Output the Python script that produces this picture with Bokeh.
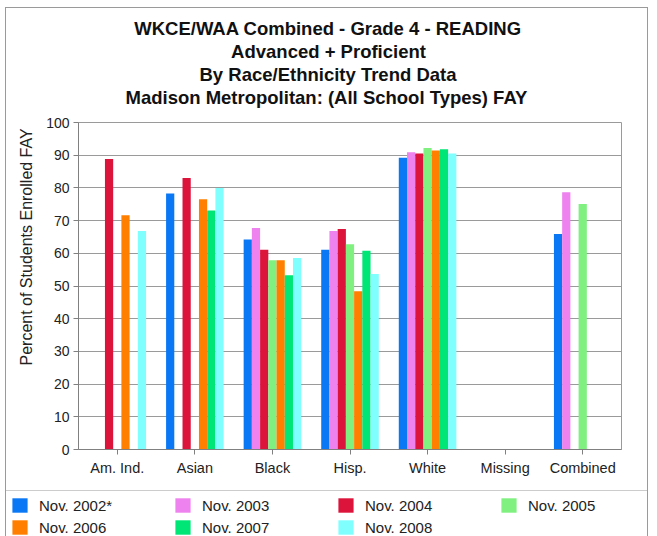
import math
from bokeh.plotting import figure
from bokeh.layouts import column
from bokeh.models import (FactorRange, Range1d, Legend, LegendItem, Title,
                          ColumnDataSource, FixedTicker)
from bokeh.transform import dodge
from bokeh.embed import file_html
from bokeh.resources import INLINE

nan = float("nan")

categories = ["Am. Ind.", "Asian", "Black", "Hisp.", "White", "Missing", "Combined"]
series_names = ["Nov. 2002*", "Nov. 2003", "Nov. 2004", "Nov. 2005",
                "Nov. 2006", "Nov. 2007", "Nov. 2008"]
nov2002 = [nan, 78.3, 64.2, 61.1, 89.2, nan, 65.9]
nov2003 = [nan, nan, 67.7, 66.8, 90.9, nan, 78.7]
nov2004 = [88.8, 83.0, 61.1, 67.4, 90.5, nan, nan]
nov2005 = [nan, nan, 57.9, 62.8, 92.2, nan, 75.1]
nov2006 = [71.6, 76.5, 57.9, 48.4, 91.4, nan, nan]
nov2007 = [nan, 73.1, 53.3, 60.8, 91.8, nan, nan]
nov2008 = [66.8, 80.0, 58.6, 53.7, 90.5, nan, nan]
y_ticks = [0, 10, 20, 30, 40, 50, 60, 70, 80, 90, 100]

title_lines = ["WKCE/WAA Combined - Grade 4 - READING",
               "Advanced + Proficient",
               "By Race/Ethnicity Trend Data",
               "Madison Metropolitan: (All School Types) FAY"]
y_label = "Percent of Students Enrolled FAY"

colors = ["#0a78f5", "#ee82ee", "#dc143c", "#80f080", "#ff8000", "#00e676", "#80ffff"]
series = [nov2002, nov2003, nov2004, nov2005, nov2006, nov2007, nov2008]

FONT = "Liberation Sans"
GRAY = "#9a9a9a"

W = 641
H1, H2 = 482, 46
LEFT, RIGHT, TOP = 72, 26, 114
FRAME_H = 327
BOTTOM = H1 - TOP - FRAME_H

p = figure(width=W, height=H1, x_range=FactorRange(*categories),
           y_range=Range1d(0, 100), output_backend="svg", toolbar_location=None,
           min_border_left=LEFT, min_border_right=RIGHT, min_border_top=TOP,
           min_border_bottom=BOTTOM)
p.outline_line_color = GRAY
p.background_fill_color = "white"
p.border_fill_color = "white"

data = {"cat": categories}
for i, s in enumerate(series):
    data["s%d" % i] = s
src = ColumnDataSource(data)

bw = 0.106
for i, c in enumerate(colors):
    p.vbar(x=dodge("cat", (i - 3) * bw, range=p.x_range), top="s%d" % i,
           width=bw, source=src, fill_color=c, line_color=None)

# axes
yax = p.yaxis[0]
yax.ticker = FixedTicker(ticks=y_ticks)
yax.major_label_text_font = FONT
yax.major_label_text_font_size = "14px"
yax.major_label_text_color = "#222222"
yax.major_label_standoff = 4
yax.major_tick_out = 5
yax.major_tick_in = 0
yax.minor_tick_out = 0
yax.minor_tick_in = 0
yax.axis_line_color = "#808080"
yax.major_tick_line_color = "#808080"

xax = p.xaxis[0]
xax.major_label_text_font = FONT
xax.major_label_text_font_size = "14.5px"
xax.major_label_text_color = "#222222"
xax.major_label_standoff = 5
xax.major_tick_out = 5
xax.major_tick_in = 0
xax.axis_line_color = "#808080"
xax.major_tick_line_color = "#808080"

p.xgrid.grid_line_color = None
p.ygrid.grid_line_color = GRAY
p.ygrid.ticker = FixedTicker(ticks=y_ticks)

# y axis title, placed as a rotated title on the left, raised as in the original
p.add_layout(Title(text=y_label, align="left", offset=84, standoff=17,
                   text_font=FONT, text_font_size="16px",
                   text_font_style="normal", text_color="#222222"), "left")

# four title lines: p.title is the outermost, added ones stack outward
title_size = 18.5
em_widths = [21.0, 10.531, 13.948, 21.947]
center_px = 328 - 6 - LEFT
offsets = [center_px - w * title_size / 2.0 for w in em_widths]

def style_title(t, k):
    t.text = title_lines[k]
    t.align = "left"
    t.offset = offsets[k]
    t.standoff = 0
    t.text_font = FONT
    t.text_font_size = "%spx" % title_size
    t.text_font_style = "bold"
    t.text_color = "#111111"

style_title(p.title, 0)
# small spacer between the last title line and the plot frame
p.add_layout(Title(text=" ", text_font_size="1px", standoff=12), "above")
for k in [3, 2, 1]:
    t = Title(text="")
    style_title(t, k)
    p.add_layout(t, "above")

# legend panel below the chart
p2 = figure(width=W, height=H2, x_range=Range1d(0, 1), y_range=Range1d(0, 1),
            output_backend="svg", toolbar_location=None, min_border=0,
            x_axis_type=None, y_axis_type=None)
aligned = True
if "frame_align" in p2.properties():
    p2.frame_align = False
    p.frame_align = False
    aligned = False
p2.outline_line_color = None
p2.border_fill_color = "white"
p2.background_fill_color = "white"
items = []
for name, c in zip(series_names, colors):
    r = p2.vbar(x=[nan], top=[nan], width=0.1, fill_color=c, line_color=None)
    items.append(LegendItem(label=name, renderers=[r]))

leg_x = -3 - (LEFT if aligned else 0)
legend = Legend(items=items, location=(leg_x, -7), orientation="horizontal",
                ncols=4, glyph_width=19, glyph_height=18, label_standoff=10,
                label_width=130, spacing=4, padding=5, margin=0,
                label_text_font=FONT, label_text_font_size="15px",
                label_text_color="#222222", label_height=18,
                border_line_color=GRAY, border_line_width=2,
                background_fill_alpha=0)
p2.add_layout(legend, "center")

layout = column(p, p2, spacing=0,
                styles={"margin-left": "5px", "margin-top": "7px",
                        "border-left": "1px solid " + GRAY,
                        "border-top": "1px solid " + GRAY,
                        "border-right": "1px solid " + GRAY})

open("out.html", "w").write(file_html(layout, INLINE))
